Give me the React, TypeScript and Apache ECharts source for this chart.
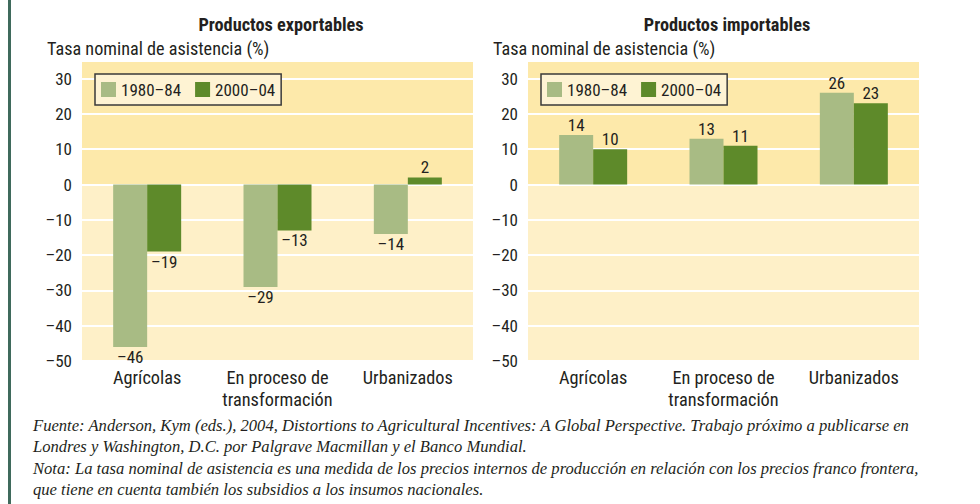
import React, { useEffect, useRef } from 'react';
import * as echarts from 'echarts';

const categories = ['Agrícolas', 'En proceso de\ntransformación', 'Urbanizados'];
const periodNames = ['1980–84', '2000–04'];
const exportables1980 = [-46, -29, -14];
const exportables2000 = [-19, -13, 2];
const importables1980 = [14, 13, 26];
const importables2000 = [10, 11, 23];
const panelTitles = ['Productos exportables', 'Productos importables'];
const axisTitle = 'Tasa nominal de asistencia (%)';
const yMin = -50;
const yMax = 35;
const yStep = 10;
const noteLines = [
  'Fuente: Anderson, Kym (eds.), 2004, Distortions to Agricultural Incentives: A Global Perspective. Trabajo próximo a publicarse en',
  'Londres y Washington, D.C. por Palgrave Macmillan y el Banco Mundial.',
  'Nota: La tasa nominal de asistencia es una medida de los precios internos de producción en relación con los precios franco frontera,',
  'que tiene en cuenta también los subsidios a los insumos nacionales.',
];

const FONT = '"Roboto Condensed", Roboto, sans-serif';
const TEXT = '#231f20';
const LIGHT = '#a8bb84';
const DARK = '#5e8a2a';
const BAND_UP = '#fde9aa';
const BAND_DOWN = '#fef0c8';

const dash = (v: number | string) => String(v).replace('-', '–');

export default function App() {
  const ref = useRef<HTMLDivElement>(null);
  useEffect(() => {
    if (!ref.current) return;
    const chart = echarts.init(ref.current, undefined, { renderer: 'svg' });
    const grids = [
      { left: 82, top: 61, width: 391, height: 300 },
      { left: 528, top: 61, width: 391, height: 300 },
    ];
    const bands = {
      silent: true,
      data: [
        [{ yAxis: 0, itemStyle: { color: BAND_UP } }, { yAxis: yMax }],
        [{ yAxis: yMin, itemStyle: { color: BAND_DOWN } }, { yAxis: 0 }],
      ],
    };
    const label = {
      show: true,
      position: 'outside',
      distance: 1,
      fontFamily: FONT,
      fontSize: 17,
      lineHeight: 18,
      color: TEXT,
      formatter: (p: any) => dash(p.value),
    };
    const mkSeries = (name: string, data: number[], color: string, idx: number, withBands: boolean) => ({
      type: 'bar',
      name,
      data,
      xAxisIndex: idx,
      yAxisIndex: idx,
      barWidth: 34,
      barGap: '0%',
      itemStyle: { color },
      label,
      markArea: withBands ? bands : undefined,
    });
    const legendBase = {
      top: 74,
      itemWidth: 15,
      itemHeight: 15,
      itemGap: 14,
      icon: 'rect',
      padding: [7, 6, 7, 6],
      backgroundColor: '#fef3d3',
      borderColor: '#3a3a3a',
      borderWidth: 1.5,
      textStyle: { fontFamily: FONT, fontSize: 17, color: TEXT },
      data: periodNames,
    };
    const titleStyle = { fontFamily: FONT, fontSize: 18.3, fontWeight: 'bold', color: TEXT };
    const subStyle = { fontFamily: FONT, fontSize: 18.2, fontWeight: 'normal', color: TEXT };
    chart.setOption({
      animation: false,
      textStyle: { fontFamily: FONT },
      title: [
        { text: panelTitles[0], left: 281, top: 15, padding: 0, textAlign: 'center', textStyle: titleStyle },
        { text: panelTitles[1], left: 727, top: 15, padding: 0, textAlign: 'center', textStyle: titleStyle },
        { text: axisTitle, left: 47, top: 39, padding: 0, textStyle: subStyle },
        { text: axisTitle, left: 493, top: 39, padding: 0, textStyle: subStyle },
      ],
      legend: [
        { ...legendBase, left: 95 },
        { ...legendBase, left: 541 },
      ],
      grid: grids,
      xAxis: [0, 1].map((i) => ({
        type: 'category',
        gridIndex: i,
        data: categories,
        axisLine: { show: false, onZero: false },
        axisTick: { show: false },
        axisLabel: { fontFamily: FONT, fontSize: 18.3, color: TEXT, margin: 5, lineHeight: 22, interval: 0 },
      })),
      yAxis: [0, 1].map((i) => ({
        type: 'value',
        gridIndex: i,
        min: yMin,
        max: yMax,
        interval: yStep,
        z: 1.5,
        axisLine: { show: false },
        axisTick: { show: false },
        axisLabel: {
          fontFamily: FONT,
          fontSize: 17,
          color: TEXT,
          margin: 10,
          showMaxLabel: false,
          formatter: (v: number) => (v % yStep === 0 ? dash(v) : ''),
        },
        splitLine: { show: true, lineStyle: { color: '#ffffff', width: 2 } },
      })),
      series: [
        mkSeries(periodNames[0], exportables1980, LIGHT, 0, true),
        mkSeries(periodNames[1], exportables2000, DARK, 0, false),
        mkSeries(periodNames[0], importables1980, LIGHT, 1, true),
        mkSeries(periodNames[1], importables2000, DARK, 1, false),
      ],
      graphic: [
        { type: 'rect', left: 8, top: 0, shape: { width: 3, height: 504 }, style: { fill: '#3f6a5c' }, silent: true },
        ...noteLines.map((t, i) => ({
          type: 'text',
          x: 33,
          y: [425, 446, 468, 489][i],
          style: {
            text: t,
            font: 'italic 16.6px "Liberation Serif", "DejaVu Serif", serif',
            fill: TEXT,
            verticalAlign: 'middle',
          },
          silent: true,
        })),
      ],
    });
    return () => chart.dispose();
  }, []);
  return <div ref={ref} style={{ position: 'fixed', left: 0, top: 0, width: 980, height: 504, background: '#fff' }} />;
}
